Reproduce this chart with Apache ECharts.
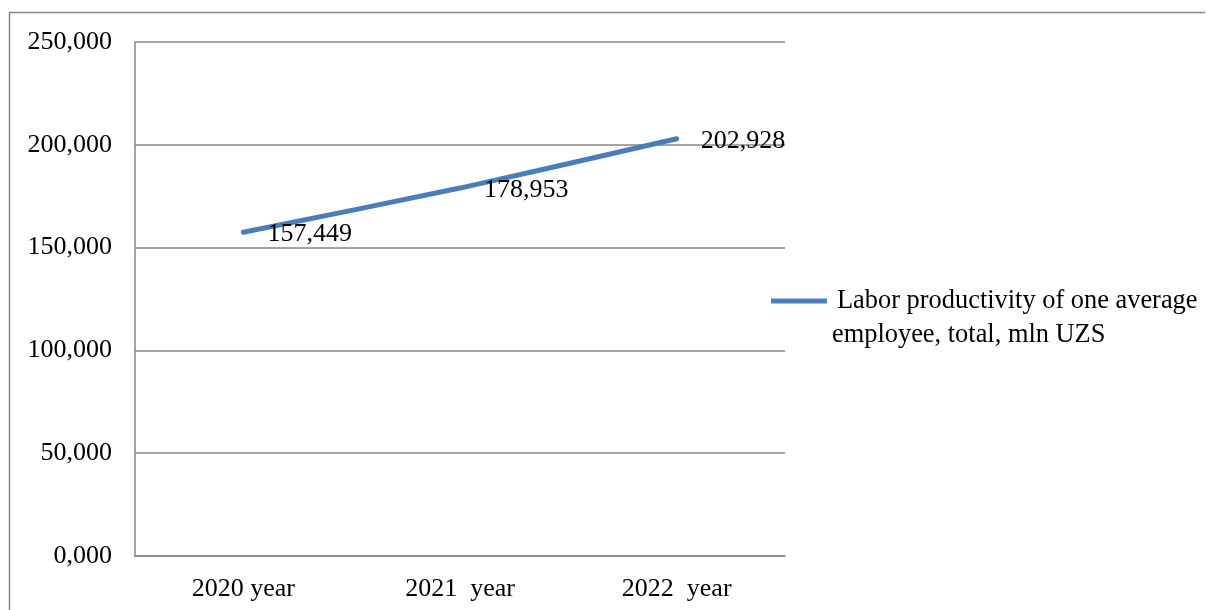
<!DOCTYPE html>
<html>
<head>
<meta charset="utf-8">
<script src="https://cdn.jsdelivr.net/npm/echarts@6/dist/echarts.min.js"></script>
<style>
html,body{margin:0;padding:0;background:#fff;}
#chart{width:1206px;height:610px;}
</style>
</head>
<body>
<div id="chart"></div>
<script>
const categories = ['2020 year', '2021  year', '2022  year'];
const values = [157449, 178953, 202928];
const valueLabels = ['157,449', '178,953', '202,928'];
const yTickLabels = ['0,000', '50,000', '100,000', '150,000', '200,000', '250,000'];
const seriesName = 'Labor productivity of one average employee, total, mln UZS';
const legendLines = ['Labor productivity of one average', 'employee, total, mln UZS'];

const font = '"Liberation Serif", "Times New Roman", serif';
const gray = '#878787';
const chart = echarts.init(document.getElementById('chart'));
chart.setOption({
  animation: false,
  backgroundColor: '#fff',
  graphic: [{
    type: 'polyline',
    shape: { points: [[9.5, 700], [9.5, 12.5], [1205, 12.5]] },
    style: { stroke: gray, lineWidth: 1.5, fill: null },
    silent: true
  }],
  grid: { left: 135, top: 42, width: 650, height: 514, containLabel: false },
  xAxis: {
    type: 'category',
    data: categories,
    boundaryGap: true,
    axisLine: { show: true, lineStyle: { color: gray, width: 1.5 } },
    axisTick: { show: false },
    axisLabel: { fontFamily: font, fontSize: 26, color: '#000', margin: 20 }
  },
  yAxis: {
    type: 'value',
    min: 0, max: 250000, interval: 50000,
    axisLine: { show: true, lineStyle: { color: gray, width: 1.5 } },
    axisTick: { show: false },
    splitLine: { show: true, lineStyle: { color: gray, width: 1.5 } },
    axisLabel: {
      fontFamily: font, fontSize: 26, color: '#000', margin: 23,
      formatter: function (v) { return yTickLabels[Math.round(v / 50000)]; }
    }
  },
  legend: {
    show: true,
    orient: 'vertical',
    left: 771,
    top: 250,
    padding: 0,
    itemWidth: 56,
    itemHeight: 5,
    textStyle: {
      fontFamily: font, fontSize: 26.4, color: '#000', lineHeight: 34,
      rich: {
        a: { fontFamily: font, fontSize: 26.4, color: '#000', lineHeight: 34, padding: [0, 0, 0, 5] },
        b: { fontFamily: font, fontSize: 26.4, color: '#000', lineHeight: 34, padding: [0, 0, 0, 0] }
      }
    },
    formatter: function () { return '{b| }\n{a|' + legendLines[0] + '}\n{b|' + legendLines[1] + '}'; },
    data: [{ name: seriesName, icon: 'path://M0,0 L56,0 L56,5 L0,5 Z' }]
  },
  series: [{
    name: seriesName,
    type: 'line',
    data: values,
    smooth: 0.2,
    symbol: 'circle',
    symbolSize: 0.1,
    showSymbol: true,
    lineStyle: { color: '#4a7ebb', width: 5, cap: 'round' },
    itemStyle: { color: '#4a7ebb' },
    label: {
      show: true,
      position: 'right',
      offset: [19, 2],
      fontFamily: font, fontSize: 26, color: '#000',
      formatter: function (p) { return valueLabels[p.dataIndex]; }
    }
  }]
});
</script>
</body>
</html>
